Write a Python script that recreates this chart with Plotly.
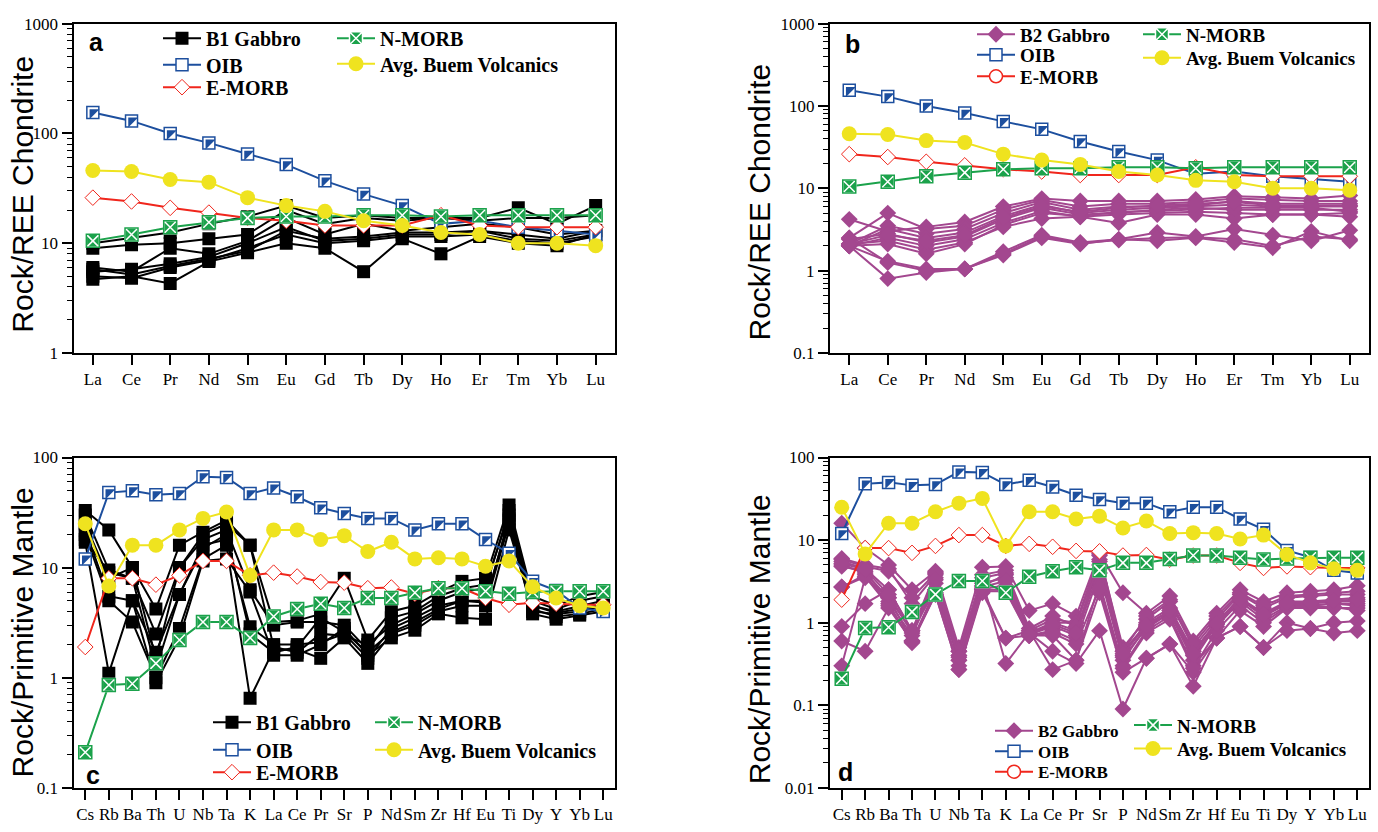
import plotly.graph_objects as go

W, H = 1378, 832

# ---------------- categories ----------------
REE = ["La", "Ce", "Pr", "Nd", "Sm", "Eu", "Gd", "Tb", "Dy", "Ho", "Er", "Tm", "Yb", "Lu"]
SPIDER = ["Cs", "Rb", "Ba", "Th", "U", "Nb", "Ta", "K", "La", "Ce", "Pr", "Sr", "P",
          "Nd", "Sm", "Zr", "Hf", "Eu", "Ti", "Dy", "Y", "Yb", "Lu"]

# ---------------- reference patterns (chondrite normalised) ----------------
oib_ree = [155, 130, 100, 82, 65, 52, 37, 28, 22, 15, 16, 14, 13, 12]
emorb_ree = [26, 24, 21, 19, 17, 16, 14.5, 14.5, 14.5, 18, 14.5, 14, 14, 14]
nmorb_ree = [10.5, 12, 14, 15.5, 17, 17.5, 17.5, 18, 18, 17.5, 18, 18, 18, 18]
buem_ree = [46, 45, 38, 36, 26, 22, 19.5, 16, 14.5, 12.5, 12, 10, 10, 9.5]

# ---------------- reference patterns (primitive mantle normalised) ----------------
oib_pm = [12, 48, 50, 46, 47, 67, 66, 47, 53, 44, 35, 31, 28, 28, 22, 25, 25, 18, 13.5, 7.5, 6.2, 4.3, 4.0]
emorb_pm = [1.9, 8, 8, 7, 8.5, 11.5, 11.5, 8.5, 9, 8.3, 7.4, 7.3, 6.5, 6.6, 5.8, 6.5, 6.5, 5.3, 4.6, 4.8, 4.7, 4.6, 4.6]
nmorb_pm = [0.21, 0.86, 0.88, 1.35, 2.2, 3.2, 3.2, 2.3, 3.6, 4.2, 4.7, 4.3, 5.3, 5.3, 5.9, 6.5, 6.5, 6.1, 5.8, 6.0, 6.1, 6.1, 6.1]
buem_pm = [25, 6.8, 16, 16, 22, 28, 32, 8.5, 22, 22, 18, 19.5, 14, 17, 12, 12.3, 12, 10.3, 11.5, 6.7, 5.3, 4.5, 4.3]

# ---------------- B1 gabbro, REE ----------------
b1_ree = [
    [10, 11.2, 12.5, 15, 17.5, 22, 17, 18, 17, 17, 17, 21, 15, 22],
    [9, 9.7, 10, 11, 12, 20, 15, 17, 16, 17, 16, 17, 17, 18],
    [6, 5.5, 9, 8, 10.5, 17, 12, 15, 13, 14, 15, 14, 12, 13],
    [5.5, 5.8, 6.5, 7.5, 10, 14, 10.5, 11, 12, 12, 13, 11, 10.5, 12],
    [5, 4.8, 6, 7, 9, 12, 10, 10.5, 11.5, 11.5, 12, 10.5, 10, 11.5],
    [4.7, 5, 4.3, 6.8, 8.2, 10, 9, 5.5, 11, 8, 11.5, 10, 9.5, 12],
    [5.8, 5.2, 6.2, 7.2, 8.5, 13, 11, 11.5, 12.5, 12.5, 13, 12, 11, 13],
]

# ---------------- B2 gabbro, REE ----------------
b2_ree = [
    [4.2, 3.0, 3.4, 3.9, 6.0, 7.5, 7.0, 7.0, 7.0, 7.3, 8.0, 7.8, 7.5, 8.2],
    [2.5, 5.0, 3.2, 3.5, 5.5, 7.2, 6.0, 6.5, 6.5, 6.8, 7.5, 7.3, 7.0, 7.0],
    [2.1, 3.5, 2.8, 3.2, 5.0, 6.8, 5.5, 6.0, 6.0, 6.2, 7.0, 6.5, 6.5, 6.5],
    [2.0, 3.2, 2.5, 2.9, 4.6, 6.3, 5.0, 5.5, 5.8, 6.0, 6.3, 6.0, 6.0, 6.0],
    [2.4, 2.8, 2.2, 2.6, 4.2, 5.8, 4.8, 5.0, 5.5, 5.8, 5.5, 5.5, 5.5, 5.5],
    [2.0, 2.5, 2.0, 2.4, 3.8, 5.3, 4.5, 4.8, 5.0, 5.2, 5.0, 4.8, 4.8, 5.0],
    [2.1, 2.3, 1.8, 2.2, 3.4, 4.3, 4.5, 3.8, 4.8, 4.8, 4.3, 4.8, 4.8, 4.5],
    [2.0, 2.1, 1.6, 2.1, 3.6, 5.0, 4.6, 5.2, 5.3, 5.5, 5.8, 5.8, 5.8, 5.2],
    [2.0, 1.3, 1.05, 1.05, 1.7, 2.7, 2.2, 2.4, 2.9, 2.6, 3.2, 2.7, 2.3, 3.1],
    [2.0, 0.8, 0.95, 1.05, 1.55, 2.5, 2.1, 2.4, 2.3, 2.5, 2.2, 1.9, 3.0, 2.3],
    [2.5, 1.25, 1.0, 1.05, 1.6, 2.6, 2.15, 2.35, 2.5, 2.55, 2.4, 2.0, 2.6, 2.4],
    [2.1, 2.7, 2.3, 2.7, 4.4, 6.0, 5.2, 5.8, 6.2, 6.5, 6.8, 6.2, 6.2, 6.2],
]

# ---------------- B1 gabbro, spider ----------------
b1_pm = [
    [33, 22, 10, 4.2, 16, 21, 27, 16, 3.2, 3.3, 3.8, 8.0, 2.2, 4.0, 4.5, 6.0, 7.5, 8.0, 37, 5.5, 4.5, 5.5, 6.0],
    [30, 9.5, 8, 2.5, 10, 18, 22, 6.3, 3.0, 3.2, 3.2, 3.0, 1.8, 3.5, 4.0, 5.5, 6.5, 7.0, 30, 4.5, 4.0, 4.5, 5.0],
    [22, 5.5, 5, 1.7, 5.7, 16, 18, 2.9, 2.0, 2.0, 2.1, 2.5, 1.5, 2.8, 3.5, 4.5, 5.0, 5.0, 27, 4.0, 3.8, 4.0, 4.5],
    [20, 5.0, 3.2, 1.0, 2.8, 12, 16, 0.65, 1.8, 1.8, 1.5, 2.3, 1.35, 2.5, 3.0, 4.0, 4.5, 4.5, 25, 3.8, 3.4, 3.7, 4.0],
    [17, 1.1, 5, 0.9, 2.3, 11.5, 12, 6.0, 1.6, 1.6, 2.0, 2.8, 1.6, 2.3, 2.7, 3.8, 3.5, 3.4, 22, 4.2, 3.6, 3.8, 4.2],
    [25, 8, 10, 1.5, 10, 20, 25, 16, 1.9, 1.7, 2.5, 2.4, 2.0, 3.0, 3.8, 5.0, 6.0, 6.5, 33, 5.0, 4.2, 5.0, 5.5],
    [18, 9, 8, 1.2, 5.7, 15, 20, 2.5, 1.7, 1.9, 3.5, 2.6, 1.7, 2.6, 3.2, 4.2, 5.0, 4.8, 28, 4.5, 3.9, 4.2, 4.6],
]

# ---------------- B2 gabbro, spider ----------------
b2_pm = [
    [16, 8, 5, 2.5, 4.2, 0.5, 4.7, 4.8, 1.4, 1.7, 1.2, 7.0, 2.3, 1.3, 2.1, 0.6, 1.3, 2.5, 1.8, 2.3, 2.4, 2.5, 2.8],
    [6, 5, 4.5, 1.7, 3.8, 0.45, 3.5, 4.0, 0.8, 1.1, 1.0, 6.5, 0.5, 1.1, 1.8, 0.5, 1.1, 2.2, 1.5, 2.0, 2.1, 2.2, 2.2],
    [5.5, 4.5, 2.5, 0.8, 3.5, 0.4, 3.0, 3.5, 0.75, 1.0, 0.8, 5.0, 0.4, 1.0, 1.5, 0.45, 1.0, 2.0, 1.3, 1.8, 1.8, 1.9, 2.0],
    [5, 4, 2, 0.6, 2.5, 0.35, 2.5, 2.5, 0.7, 0.8, 0.6, 4.0, 0.35, 0.9, 1.3, 0.4, 0.9, 1.8, 1.1, 1.6, 1.6, 1.7, 1.7],
    [2.7, 3.8, 1.7, 0.57, 2.2, 0.27, 2.3, 0.65, 0.7, 0.7, 0.35, 3.0, 0.3, 0.8, 1.2, 0.3, 0.65, 1.4, 0.9, 1.5, 1.5, 1.5, 1.5],
    [0.9, 1.7, 2.5, 0.8, 4.0, 0.45, 3.2, 0.32, 0.75, 0.45, 0.32, 0.8, 0.09, 0.37, 0.55, 0.17, 0.65, 0.9, 0.5, 1.0, 0.85, 1.0, 1.05],
    [0.6, 0.45, 1.5, 0.6, 2.2, 0.27, 2.5, 0.65, 0.8, 0.27, 0.35, 2.3, 0.25, 0.37, 0.55, 0.25, 0.65, 0.9, 0.5, 0.8, 0.85, 0.75, 0.8],
    [0.3, 3.5, 2.0, 0.8, 2.5, 0.4, 2.8, 3.8, 0.7, 1.0, 1.0, 5.5, 0.45, 0.95, 1.4, 0.45, 1.0, 2.0, 1.2, 1.7, 1.7, 1.8, 1.8],
    [5.8, 4.8, 4.2, 2.0, 4.0, 0.45, 3.8, 4.3, 0.85, 1.2, 0.9, 6.8, 0.45, 1.2, 1.9, 0.55, 1.2, 2.3, 1.6, 2.1, 2.2, 2.3, 2.4],
    [4.8, 4.2, 1.8, 0.7, 3.0, 0.35, 2.6, 2.8, 0.72, 0.9, 0.7, 4.5, 0.38, 0.85, 1.3, 0.35, 0.95, 1.9, 1.2, 1.7, 1.6, 1.7, 1.6],
    [2.7, 3.6, 1.6, 0.6, 2.3, 0.3, 2.4, 2.4, 0.7, 0.75, 0.55, 2.6, 0.28, 0.75, 1.1, 0.28, 0.8, 1.6, 1.0, 1.55, 1.55, 1.55, 1.4],
    [5.2, 4.4, 2.2, 0.75, 3.3, 0.38, 2.7, 3.2, 0.72, 0.95, 0.75, 5.8, 0.42, 0.92, 1.4, 0.42, 0.98, 1.95, 1.25, 1.75, 1.75, 1.85, 1.9],
]

# ---------------- styles ----------------
BLUE = "#1d4f9e"
RED = "#f0261c"
GREEN = "#1ba24b"
YELLOW = "#efe31f"
PURPLE = "#a3478f"
BLACK = "#000000"

LEGEND_FONT = "Liberation Serif"
TICK_FONT = "Liberation Serif"
TITLE_FONT = "Liberation Sans"


def fx(p):
    return p / W


def fy(p):
    return 1 - p / H


fig = go.Figure()
legends = {}
_leg_counter = [0]


def new_legend(text_x, row_y, size):
    _leg_counter[0] += 1
    k = _leg_counter[0]
    key = "legend" if k == 1 else "legend%d" % k
    legends[key] = dict(
        x=fx(text_x - 48), y=fy(row_y), xanchor="left", yanchor="middle",
        bgcolor="rgba(0,0,0,0)", borderwidth=0, itemwidth=38,
        font=dict(family=LEGEND_FONT, size=size, color="black", weight="bold"),
        itemclick=False, itemdoubleclick=False)
    return key


def add_panel(xa, ya, cats, samples, sample_name, sample_kind, oib, emorb, nmorb, buem,
              leg_pos, emorb_legend_circle):
    (c1x, r1, r2, r3, s1), (c2x, q1, q2, s2) = leg_pos
    L_s = new_legend(c1x, r1, s1)
    L_o = new_legend(c1x, r2, s1)
    L_e = new_legend(c1x, r3, s1)
    L_n = new_legend(c2x, q1, s2)
    L_b = new_legend(c2x, q2, s2)
    if sample_kind == "B1":
        mk = dict(symbol="square", size=13, color=BLACK, line=dict(width=0))
        lc = BLACK
    else:
        mk = dict(symbol="diamond", size=13, color=PURPLE, line=dict(width=0))
        lc = PURPLE
    for i, ys in enumerate(samples):
        fig.add_trace(go.Scatter(
            x=cats, y=ys, xaxis=xa, yaxis=ya, mode="lines+markers",
            line=dict(color=lc, width=2), marker=mk, name=sample_name,
            showlegend=(i == 0), legend=L_s, hoverinfo="skip"))
    # OIB
    fig.add_trace(go.Scatter(
        x=cats, y=oib, xaxis=xa, yaxis=ya, mode="lines+markers",
        line=dict(color=BLUE, width=2),
        marker=dict(symbol="square", size=12, color="white", line=dict(color=BLUE, width=1.5)),
        name="OIB", legend=L_o, hoverinfo="skip"))
    fig.add_trace(go.Scatter(
        x=cats, y=oib, xaxis=xa, yaxis=ya, mode="markers",
        marker=dict(symbol="triangle-nw", size=11, color=BLUE, line=dict(width=0)),
        showlegend=False, hoverinfo="skip"))
    # E-MORB
    fig.add_trace(go.Scatter(
        x=cats, y=emorb, xaxis=xa, yaxis=ya, mode="lines+markers",
        line=dict(color=RED, width=2),
        marker=dict(symbol="diamond", size=12, color="white", line=dict(color=RED, width=1)),
        name="E-MORB", legend=L_e, showlegend=not emorb_legend_circle, hoverinfo="skip"))
    if emorb_legend_circle:
        fig.add_trace(go.Scatter(
            x=[None], y=[None], xaxis=xa, yaxis=ya, mode="lines+markers",
            line=dict(color=RED, width=2),
            marker=dict(symbol="circle", size=13, color="white", line=dict(color=RED, width=1.5)),
            name="E-MORB", legend=L_e, hoverinfo="skip"))
    # N-MORB: green square with white cross, green outline
    fig.add_trace(go.Scatter(
        x=cats, y=nmorb, xaxis=xa, yaxis=ya, mode="lines+markers",
        line=dict(color=GREEN, width=2),
        marker=dict(symbol="square-x", size=13, color=GREEN, line=dict(color="white", width=1.5)),
        name="N-MORB", legend=L_n, hoverinfo="skip"))
    fig.add_trace(go.Scatter(
        x=cats, y=nmorb, xaxis=xa, yaxis=ya, mode="markers",
        marker=dict(symbol="square-open", size=13, color=GREEN, line=dict(color=GREEN, width=1.5)),
        showlegend=False, hoverinfo="skip"))
    # Avg Buem
    fig.add_trace(go.Scatter(
        x=cats, y=buem, xaxis=xa, yaxis=ya, mode="lines+markers",
        line=dict(color=YELLOW, width=2),
        marker=dict(symbol="circle", size=15, color=YELLOW, line=dict(width=0)),
        name="Avg. Buem Volcanics", legend=L_b, hoverinfo="skip"))


add_panel("x", "y", REE, b1_ree, "B1 Gabbro", "B1", oib_ree, emorb_ree, nmorb_ree, buem_ree,
          ((206, 30, 57, 80, 20), (380, 30, 56, 20)), False)
add_panel("x2", "y2", REE, b2_ree, "B2 Gabbro", "B2", oib_ree, emorb_ree, nmorb_ree, buem_ree,
          ((1020, 26, 47, 69, 19), (1186, 26, 50, 19)), True)
add_panel("x3", "y3", SPIDER, b1_pm, "B1 Gabbro", "B1", oib_pm, emorb_pm, nmorb_pm, buem_pm,
          ((256, 730, 758, 781, 20), (418, 730, 758, 20)), False)
add_panel("x4", "y4", SPIDER, b2_pm, "B2 Gabbro", "B2", oib_pm, emorb_pm, nmorb_pm, buem_pm,
          ((1038, 739, 760, 781, 17), (1177, 733, 757, 19)), True)

# ---------------- axes ----------------
LEFT_DOM = [fx(73.5), fx(615)]
RIGHT_DOM = [fx(830), fx(1369)]
TOP_DOM = [fy(352), fy(15)]
BOT_DOM = [fy(797), fy(459)]


def fmt(v):
    return "%g" % v


def yaxis(lo, hi, domain, anchor):
    major = [10.0 ** e for e in range(lo, hi + 1)]
    minor = [k * 10.0 ** e for e in range(lo, hi) for k in range(2, 10)]
    return dict(
        type="log", range=[lo, hi], domain=domain, anchor=anchor,
        tickmode="array", tickvals=major, ticktext=[fmt(v) for v in major],
        ticks="outside", ticklen=10, tickwidth=1.5, tickcolor="black",
        showline=True, linewidth=2, linecolor="black", mirror=True,
        showgrid=False, zeroline=False,
        tickfont=dict(family=TICK_FONT, size=17, color="black"),
        minor=dict(tickmode="array", tickvals=minor, ticks="outside", ticklen=5,
                   tickwidth=1, tickcolor="black", showgrid=False),
    )


def xaxis(cats, domain, anchor):
    return dict(
        type="category", categoryorder="array", categoryarray=cats,
        range=[-0.5, len(cats) - 0.5], domain=domain, anchor=anchor,
        ticks="outside", ticklen=10, tickwidth=1.5, tickcolor="black",
        showline=True, linewidth=2, linecolor="black", mirror=True,
        showgrid=False, zeroline=False, tickangle=0,
        tickfont=dict(family=TICK_FONT, size=17, color="black"),
    )


annotations = []
for (txt, x, y) in [("a", 96, 34), ("b", 852, 36), ("c", 93, 784), ("d", 846, 781)]:
    annotations.append(dict(text="<b>%s</b>" % txt, x=fx(x), y=fy(y), xref="paper", yref="paper",
                            xanchor="center", yanchor="middle", showarrow=False,
                            font=dict(family=TITLE_FONT, size=25, color="black")))
for (txt, x, y) in [("Rock/REE Chondrite", 23, 190), ("Rock/REE Chondrite", 759, 198),
                    ("Rock/Primitive Mantle", 22, 638), ("Rock/Primitive Mantle", 759, 645)]:
    annotations.append(dict(text=txt, x=fx(x), y=fy(y), xref="paper", yref="paper",
                            xanchor="center", yanchor="middle", showarrow=False, textangle=-90,
                            font=dict(family=TITLE_FONT, size=30, color="black")))

fig.update_layout(
    width=W, height=H, margin=dict(l=0, r=0, t=0, b=0),
    paper_bgcolor="white", plot_bgcolor="white",
    xaxis=xaxis(REE, LEFT_DOM, "y"), yaxis=yaxis(0, 3, TOP_DOM, "x"),
    xaxis2=xaxis(REE, RIGHT_DOM, "y2"), yaxis2=yaxis(-1, 3, TOP_DOM, "x2"),
    xaxis3=xaxis(SPIDER, LEFT_DOM, "y3"), yaxis3=yaxis(-1, 2, BOT_DOM, "x3"),
    xaxis4=xaxis(SPIDER, RIGHT_DOM, "y4"), yaxis4=yaxis(-2, 2, BOT_DOM, "x4"),
    annotations=annotations,
    showlegend=True,
)
fig.update_layout(**legends)

fig.write_html("out.html", config={"displayModeBar": False},
               post_script="document.body.style.margin='0';")
